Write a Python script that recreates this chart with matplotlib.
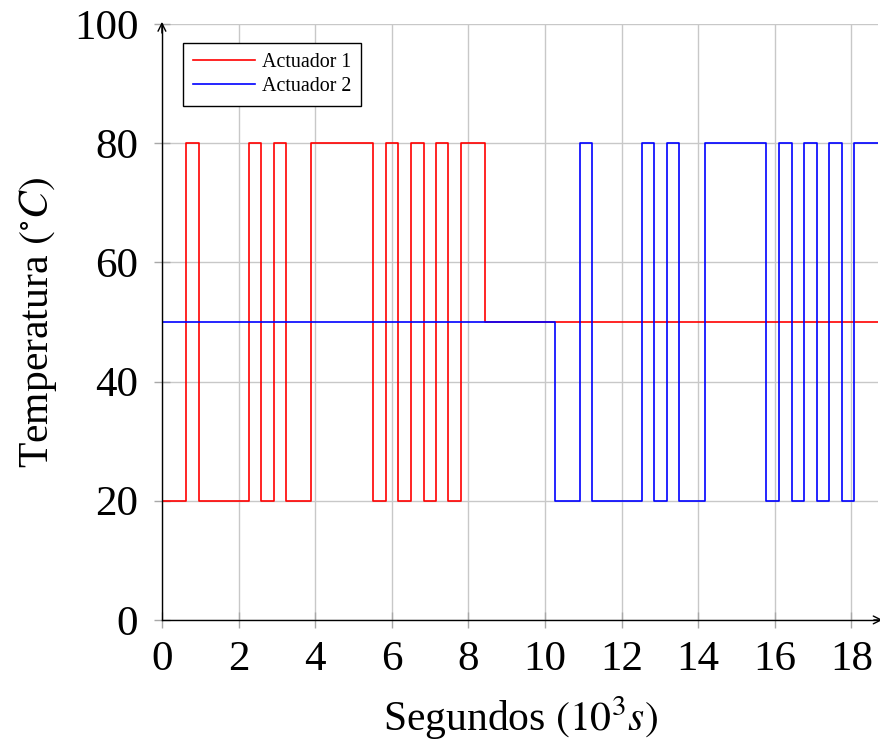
import matplotlib
matplotlib.use("Agg")
import matplotlib.pyplot as plt
import numpy as np

plt.rcParams['font.family'] = ['Liberation Serif', 'DejaVu Serif']
plt.rcParams['mathtext.fontset'] = 'stix'

# Step data (time in 10^3 s, temperature in °C)
t1 = [0, 0.64, 0.97, 2.27, 2.59, 2.92, 3.24, 3.90, 5.51, 5.85, 6.17, 6.50, 6.83, 7.15, 7.47, 7.80, 8.44, 18.7]
y1 = [20, 80, 20, 80, 20, 80, 20, 80, 20, 80, 20, 80, 20, 80, 20, 80, 50, 50]
t2 = [0, 10.26, 10.91, 11.24, 12.54, 12.85, 13.19, 13.51, 14.17, 15.78, 16.11, 16.44, 16.77, 17.10, 17.42, 17.75, 18.07, 18.7]
y2 = [50, 20, 80, 20, 80, 20, 80, 20, 80, 20, 80, 20, 80, 20, 80, 20, 80, 80]
xticks = [0, 2, 4, 6, 8, 10, 12, 14, 16, 18]
yticks = [0, 20, 40, 60, 80, 100]

fig = plt.figure(figsize=(8.8, 7.46), dpi=100)
ax = fig.add_axes([0.184, 0.169, 0.814, 0.799])

ax.step(t1, y1, where='post', color='#ff0000', lw=1.2, label='Actuador 1')
ax.step(t2, y2, where='post', color='#0000ff', lw=1.2, label='Actuador 2')

ax.set_xlim(0, 18.7)
ax.set_ylim(0, 100)
ax.set_xticks(xticks)
ax.set_yticks(yticks)
ax.grid(True, color='#c8c8c8', lw=1.0)
ax.set_axisbelow(True)
for s in ['top', 'right']:
    ax.spines[s].set_visible(False)
for s in ['left', 'bottom']:
    ax.spines[s].set_color('black')
    ax.spines[s].set_linewidth(1.0)
ax.tick_params(axis='both', direction='inout', length=11, width=1, color='#a8a8a8',
               labelsize=31)
ax.tick_params(axis='y', pad=11.5)
ax.tick_params(axis='x', pad=9)

# axis arrows
ax.annotate('', xy=(1.01, 0), xycoords='axes fraction', xytext=(0.99, 0),
            arrowprops=dict(arrowstyle='->', color='black', lw=1.0, mutation_scale=14),
            annotation_clip=False)
ax.annotate('', xy=(0, 1.008), xycoords='axes fraction', xytext=(0, 0.98),
            arrowprops=dict(arrowstyle='->', color='black', lw=1.0, mutation_scale=14),
            annotation_clip=False)

ax.set_xlabel(r'Segundos $(10^3s)$', fontsize=30, labelpad=11)
ax.set_ylabel(r'Temperatura $(^{\circ}C)$', fontsize=30, labelpad=11)

leg = ax.legend(loc='upper left', bbox_to_anchor=(0.029, 0.968), fontsize=14.4,
                frameon=True, fancybox=False, edgecolor='black', framealpha=1,
                handlelength=3.1, handletextpad=0.35, borderpad=0.5, labelspacing=0.25,
                borderaxespad=0)
leg.get_frame().set_linewidth(1.0)

fig.savefig('out.png', dpi=100)
